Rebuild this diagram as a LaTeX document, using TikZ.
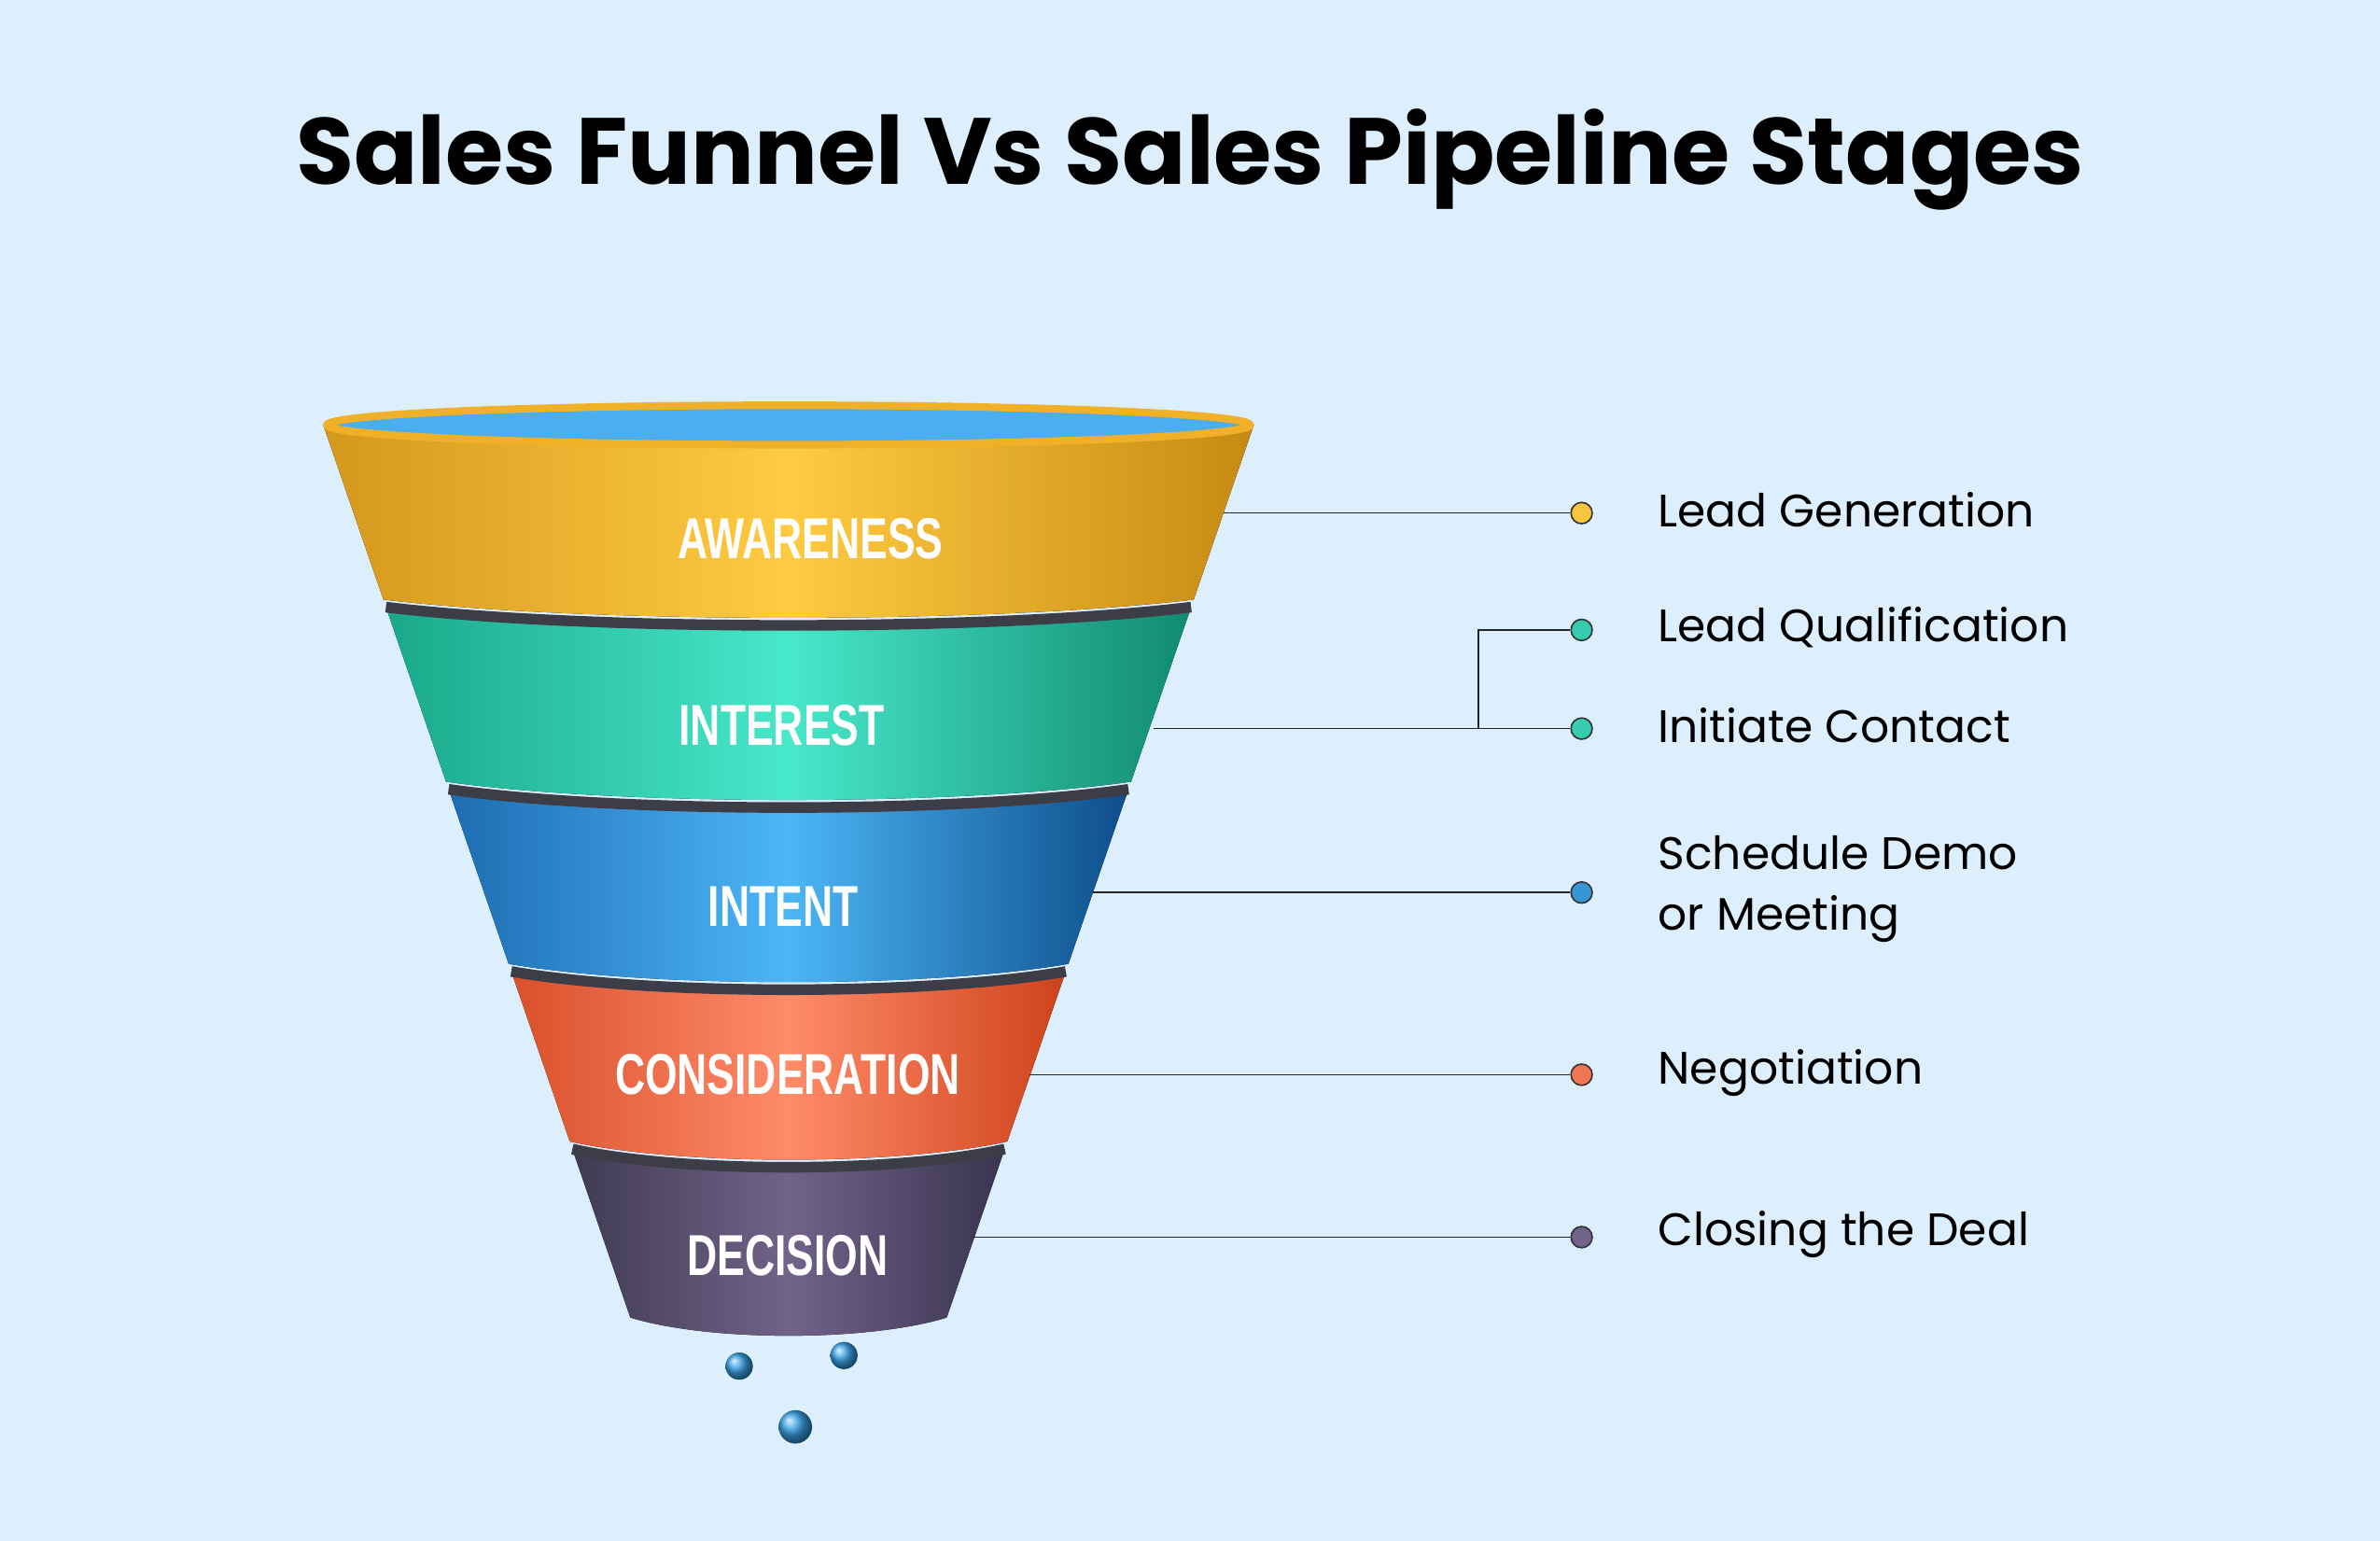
\documentclass[tikz,border=0pt]{standalone}
\usepackage{fontspec}
\setmainfont{Poppins}
\newfontfamily\bandfont{Liberation Sans}
\definecolor{bgblue}{HTML}{DDEEFC}
\definecolor{rimdark}{HTML}{3D3D48}
\definecolor{awL}{HTML}{D4981C}\definecolor{awM}{HTML}{FFCB42}\definecolor{awR}{HTML}{C68A12}
\definecolor{inL}{HTML}{1AA88A}\definecolor{inM}{HTML}{48E8CB}\definecolor{inR}{HTML}{118A70}
\definecolor{itL}{HTML}{1E6CB2}\definecolor{itM}{HTML}{4CB6F6}\definecolor{itR}{HTML}{0D4D8A}
\definecolor{coL}{HTML}{D9502B}\definecolor{coM}{HTML}{FF8B69}\definecolor{coR}{HTML}{CE421A}
\definecolor{deL}{HTML}{3F3A52}\definecolor{deM}{HTML}{716389}\definecolor{deR}{HTML}{393350}
\definecolor{dropblue}{HTML}{3BA3E8}

\tikzset{every picture/.style={line width=0.75pt}}

% one band of the funnel: top y, bottom y, three shading colours
\newcommand\funnelband[5]{%
  \pgfmathsetmacro\wt{306.5-0.344*(#1-280)}%
  \pgfmathsetmacro\wb{306.5-0.344*(#2-280)}%
  \fill[left color=#3,right color=#5,middle color=#4]
    ({519.5-\wt},#1) -- ({519.5-\wb},#2)
    .. controls ({519.5-0.5*\wb},#2+16) and ({519.5+0.5*\wb},#2+16) .. ({519.5+\wb},#2)
    -- ({519.5+\wt},#1)
    .. controls ({519.5+0.5*\wt},#1+16) and ({519.5-0.5*\wt},#1+16) .. cycle;}
\newcommand\bandrim[1]{%
  \pgfmathsetmacro\wt{306.5-0.344*(#1-280)}%
  \draw[rimdark,line width=3.5pt]
    ({519.5-\wt},#1) .. controls ({519.5-0.5*\wt},#1+16) and ({519.5+0.5*\wt},#1+16) .. ({519.5+\wt},#1);}

\begin{document}
\begin{tikzpicture}[x=0.5pt,y=0.5pt,yscale=-1,xscale=1,
    stagelabel/.style={text=white,font=\bandfont\bfseries\fontsize{19}{19}\selectfont},
    pipetext/.style={anchor=west,align=left,font=\fontsize{15}{20}\selectfont},
    dot/.style={circle,draw=black!80,line width=0.5pt,inner sep=0pt,minimum size=7pt},
    link/.style={draw=black!85,line width=0.5pt},
    drop/.style={circle,inner sep=0pt,ball color=dropblue,shading=ball}]
        \fill[bgblue] (0,0) rectangle (1568,1015);
        \useasboundingbox (0,0) rectangle (1568,1015);

        %Title
        \node[font=\bfseries\fontsize{31}{31}\selectfont] (title) at (784,105) {Sales Funnel Vs Sales Pipeline Stages};

        %Funnel bands, bottom up
        \funnelband{757}{868}{deL}{deM}{deR}
        \bandrim{757}
        \funnelband{640}{752}{coL}{coM}{coR}
        \bandrim{640}
        \funnelband{520}{635}{itL}{itM}{itR}
        \bandrim{520}
        \funnelband{400}{515}{inL}{inM}{inR}
        \bandrim{400}
        \funnelband{280}{395}{awL}{awM}{awR}

        %Rim
        \draw[fill={rgb, 255:red, 74; green, 174; blue, 240 },draw={rgb, 255:red, 240; green, 176; blue, 40 },line width=2.5pt] (519.5,280) ellipse (304 and 13);

        \node[stagelabel] (aware) at (534,355) {\scalebox{0.72}[1]{AWARENESS}};
        \node[stagelabel] (inter) at (515,478) {\scalebox{0.72}[1]{INTEREST}};
        \node[stagelabel] (inten) at (516,597) {\scalebox{0.72}[1]{INTENT}};
        \node[stagelabel] (consi) at (519,708) {\scalebox{0.72}[1]{CONSIDERATION}};
        \node[stagelabel] (decis) at (519,827) {\scalebox{0.72}[1]{DECISION}};

        %Drops
        \node[drop,minimum size=9pt] (drop1) at (487,900) {};
        \node[drop,minimum size=9pt] (drop2) at (556,893) {};
        \node[drop,minimum size=11pt] (drop3) at (524,940) {};

        %Pipeline stages
        \coordinate (awR) at (806,338);
        \coordinate (inR) at (760,480);
        \coordinate (inJ) at (974,480);
        \coordinate (itR) at (720,588);
        \coordinate (coR) at (678,708);
        \coordinate (deR) at (640,815);
        \node[dot,fill=awM!90!awR] (d1) at (1042,338) {};
        \node[dot,fill=inM!70!inR] (d2) at (1042,415) {};
        \node[dot,fill=inM!70!inR] (d3) at (1042,480) {};
        \node[dot,fill=itM!70!itR] (d4) at (1042,588) {};
        \node[dot,fill=coM!70!coR] (d5) at (1042,708) {};
        \node[dot,fill=deM] (d6) at (1042,815) {};
        \draw[link] (awR) -- (d1);
        \draw[link] (inR) -- (d3);
        \draw[link] (inJ) |- (d2);
        \draw[link] (itR) -- (d4);
        \draw[link] (coR) -- (d5);
        \draw[link] (deR) -- (d6);

        \node[pipetext] (p1) at (1085,336) {Lead Generation};
        \node[pipetext] (p2) at (1085,413) {Lead Qualification};
        \node[pipetext] (p3) at (1085,478) {Initiate Contact};
        \node[pipetext] (p4) at (1085,586) {Schedule Demo\\or Meeting};
        \node[pipetext] (p5) at (1085,707) {Negotiation};
        \node[pipetext] (p6) at (1085,813) {Closing the Deal};
    \end{tikzpicture}
\end{document}
